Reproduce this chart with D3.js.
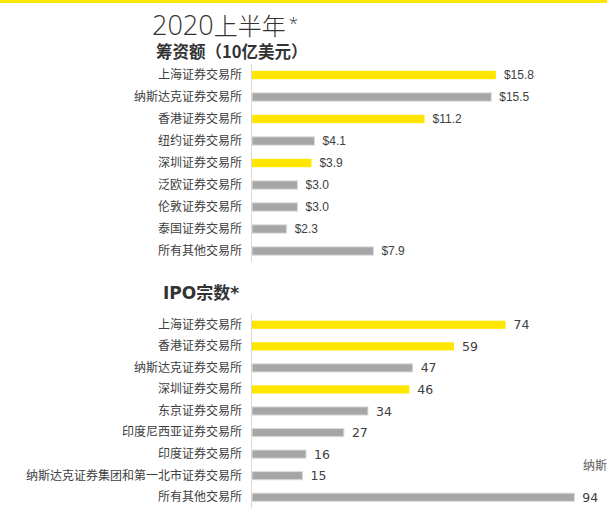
<!DOCTYPE html>
<html><head><meta charset="utf-8">
<script src="https://cdn.jsdelivr.net/npm/d3@7/dist/d3.min.js"></script>
<style>
html,body{margin:0;padding:0;background:#fff;}
svg{display:block;}
</style></head>
<body>
<script>
const topCategories = ["上海证券交易所","纳斯达克证券交易所","香港证券交易所","纽约证券交易所","深圳证券交易所","泛欧证券交易所","伦敦证券交易所","泰国证券交易所","所有其他交易所"];
const topValues = [15.8, 15.5, 11.2, 4.1, 3.9, 3.0, 3.0, 2.3, 7.9];
const topHighlight = [true, false, true, false, true, false, false, false, false];

const bottomCategories = ["上海证券交易所","香港证券交易所","纳斯达克证券交易所","深圳证券交易所","东京证券交易所","印度尼西亚证券交易所","印度证券交易所","纳斯达克证券集团和第一北市证券交易所","所有其他交易所"];
const bottomValues = [74, 59, 47, 46, 34, 27, 16, 15, 94];
const bottomHighlight = [true, true, false, true, false, false, false, false, false];

const YELLOW = "#FFE600", GRAY = "#A6A6A6";
const W = 607, H = 513;
const svg = d3.select("body").append("svg").attr("width", W).attr("height", H);

// top yellow rule
svg.append("rect").attr("x",0).attr("y",0).attr("width",W).attr("height",3).attr("fill",YELLOW);

const CJK = "'Noto Sans CJK SC', sans-serif";

// titles
const t = svg.append("text").attr("x",152).attr("y",35)
  .attr("font-family","'Open Sans', 'Noto Sans CJK SC', sans-serif").attr("font-weight",300).attr("font-size",27).attr("fill","#333");
t.append("tspan").text("2020");
t.append("tspan").attr("font-family",CJK).attr("font-size",24).attr("font-weight",300).text("上半年");
t.append("tspan").attr("font-size",17).attr("font-weight",300).attr("dx",3).attr("dy",-6).text("*");

svg.append("text").attr("x",156).attr("y",58).attr("font-family",CJK).attr("font-weight",700)
  .attr("font-size",16.5).attr("fill","#333").text("筹资额（10亿美元）");

svg.append("text").attr("x",163).attr("y",299).attr("font-family","'DejaVu Sans', 'Noto Sans CJK SC', sans-serif").attr("font-weight",700)
  .attr("font-size",17).attr("fill","#333").text("IPO宗数*");

function panel(cats, vals, hl, yRange, xScale, fmt, labelFont, labelSize) {
  const y = d3.scaleBand().domain(cats).range(yRange).paddingInner(0.62).paddingOuter(0.31);
  const g = svg.append("g");
  const ax = g.append("g").attr("transform", `translate(${xScale(0)},0)`)
    .call(d3.axisLeft(y).tickSize(0).tickSizeOuter(0).tickPadding(9));
  ax.select(".domain").attr("stroke","#D9D9D9").attr("d", `M0.5,${yRange[0]}V${yRange[1]}`);
  ax.selectAll("text").attr("font-family",CJK).attr("font-size",12).attr("fill","#404040");
  g.selectAll("rect.bar").data(cats).join("rect").attr("class","bar")
    .attr("x", xScale(0) + 1)
    .attr("y", d => y(d))
    .attr("width", (d,i) => xScale(vals[i]) - xScale(0) - 1)
    .attr("height", y.bandwidth())
    .attr("fill", (d,i) => hl[i] ? YELLOW : GRAY)
    .attr("stroke", (d,i) => hl[i] ? "none" : "#DCDCDC")
    .attr("stroke-width", 1);
  g.selectAll("text.val").data(cats).join("text").attr("class","val")
    .attr("x", (d,i) => xScale(vals[i]) + 8)
    .attr("y", d => y(d) + y.bandwidth()/2)
    .attr("dy","0.36em")
    .attr("font-family",labelFont).attr("font-size",labelSize).attr("fill","#404040")
    .text((d,i) => fmt(vals[i]));
}

const xTop = d3.scaleLinear().domain([0, 20]).range([251, 251 + 310]);
panel(topCategories, topValues, topHighlight, [64, 262], xTop, v => "$" + d3.format(".1f")(v), "'Liberation Sans', sans-serif", 12);

const xBot = d3.scaleLinear().domain([0, 100]).range([251, 251 + 344]);
panel(bottomCategories, bottomValues, bottomHighlight, [314, 508], xBot, v => String(v), "'DejaVu Sans', sans-serif", 12.5);

// clipped fragment of a label at right edge
svg.append("text").attr("x",583).attr("y",470).attr("font-family",CJK).attr("font-size",12)
  .attr("fill","#595959").text("纳斯");
</script>
</body></html>
